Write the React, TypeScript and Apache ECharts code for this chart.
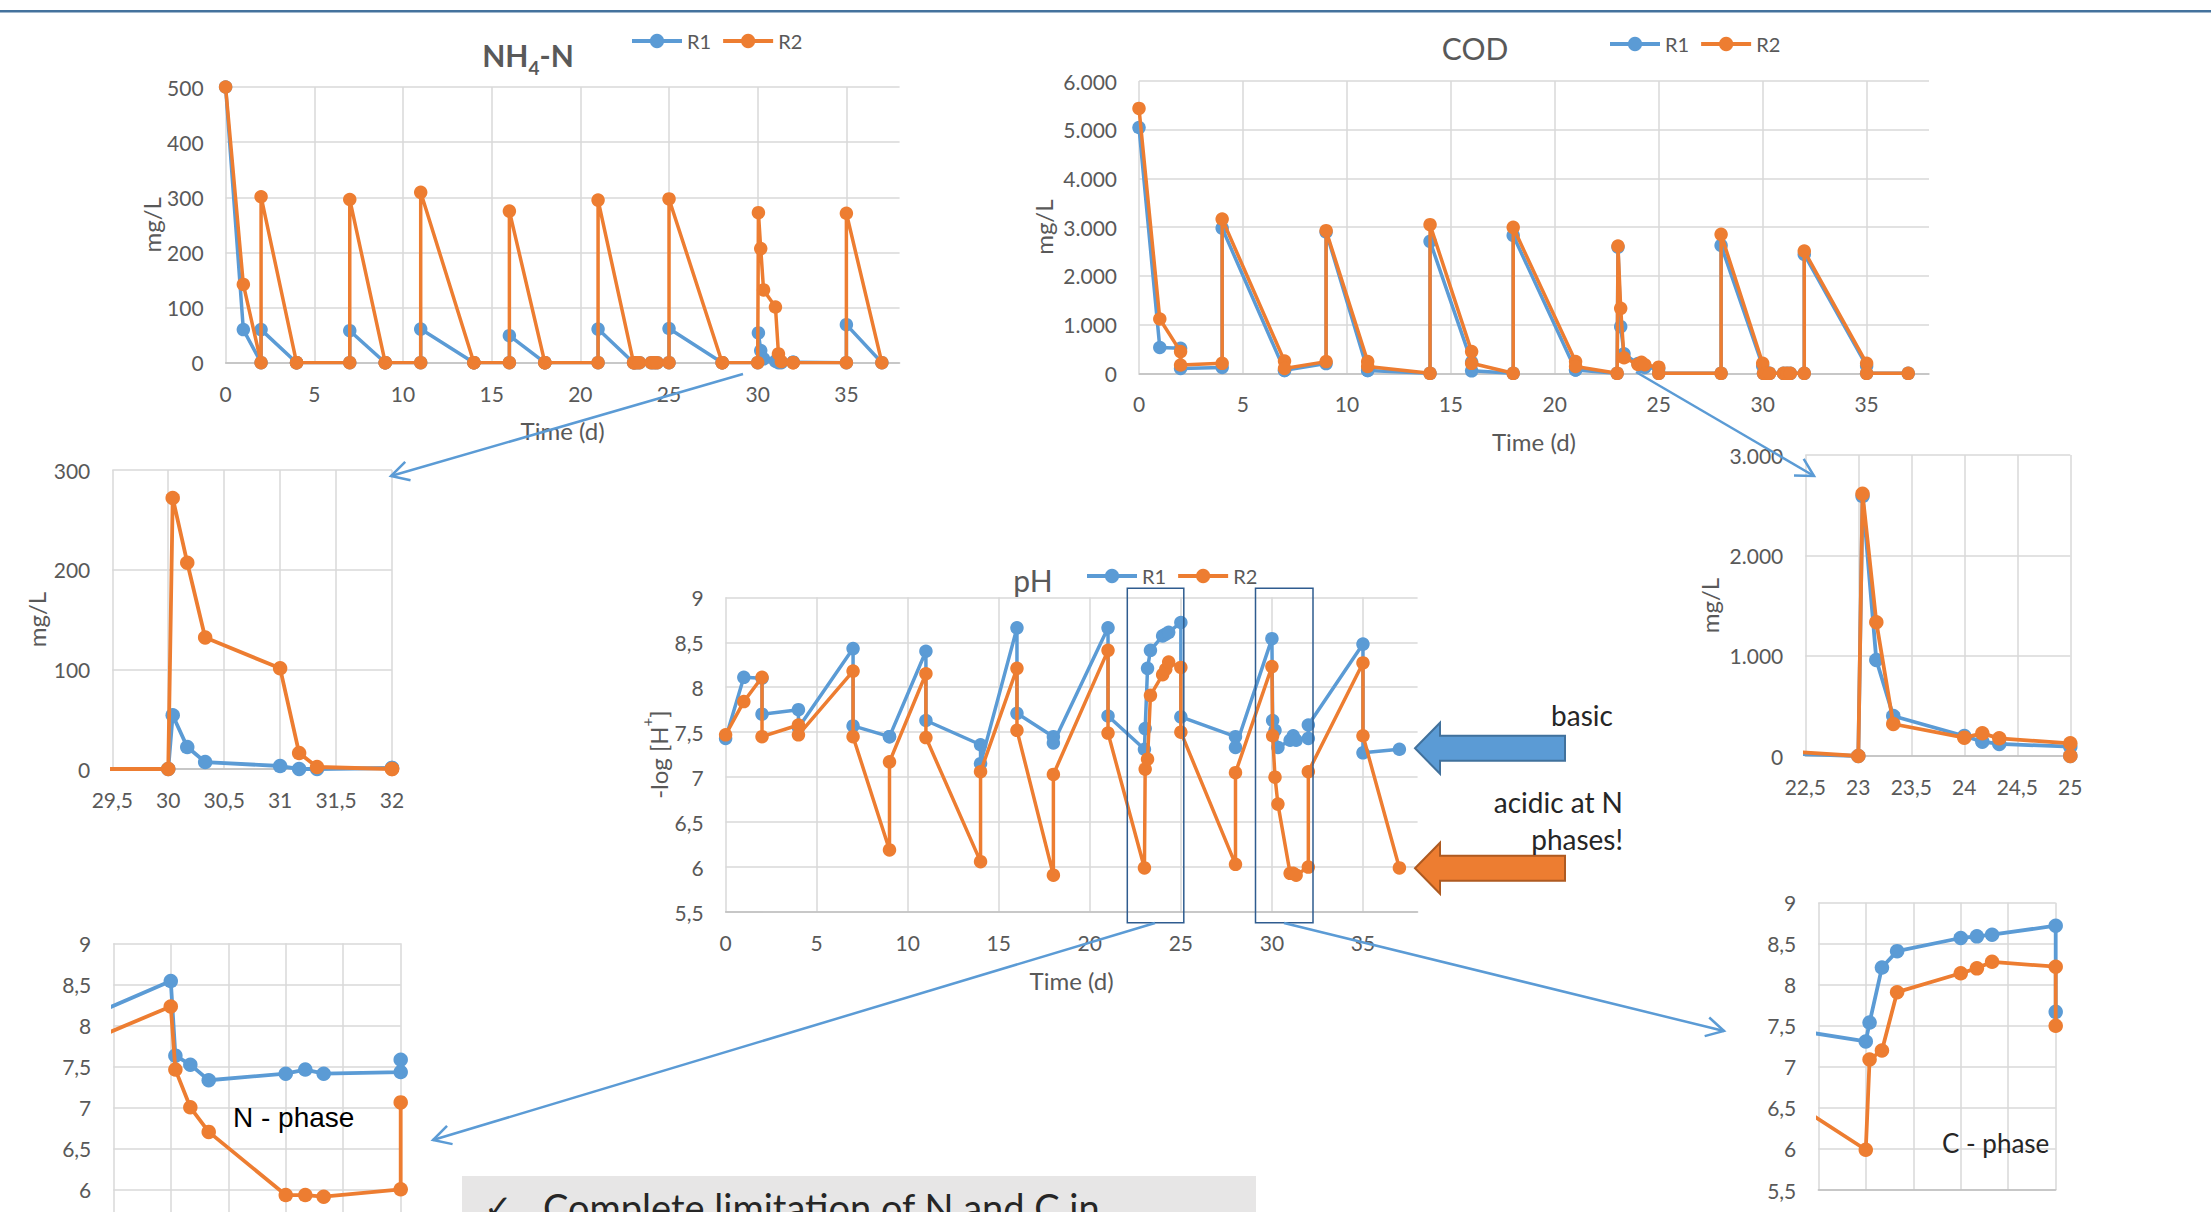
import React, { useEffect, useRef } from 'react';
import * as echarts from 'echarts';

// ---------- DATA ----------
const days = [0, 1, 2, 2, 4, 4, 7, 7, 9, 9, 11, 11, 14, 14, 16, 16, 18, 18, 21, 21, 23, 23.04, 23.17, 23.33, 24, 24.17, 24.33, 25, 25, 28, 28, 30, 30.04, 30.17, 30.33, 31, 31.17, 31.33, 32, 32, 35, 35, 37];

const nh4R1 = [500, 60, 0, 60, 0, 0, 0, 58, 0, 0, 0, 61, 0, 0, 0, 49, 0, 0, 0, 61, 0, 0, 0, 0, 0, 0, 0, 0, 62, 0, 0, 0, 54, 22, 7, 3, 0, 0, 1, 1, 0, 69, 0];
const nh4R2 = [500, 142, 0, 301, 0, 0, 0, 296, 0, 0, 0, 309, 0, 0, 0, 275, 0, 0, 0, 295, 0, 0, 0, 0, 0, 0, 0, 0, 297, 0, 0, 0, 272, 207, 132, 101, 16, 2, 0, 0, 0, 271, 0];

const codR1 = [5045, 530, 513, 100, 120, 2980, 60, 60, 200, 2900, 60, 60, 0, 2708, 230, 50, 0, 2830, 70, 70, 0, 2591, 957, 399, 199, 143, 120, 93, 0, 0, 2625, 150, 0, 0, 0, 0, 0, 0, 0, 2440, 150, 0, 0];
const codR2 = [5438, 1115, 445, 170, 205, 3167, 250, 100, 240, 2928, 240, 140, 0, 3050, 445, 205, 0, 2996, 240, 140, 0, 2613, 1334, 319, 183, 226, 176, 126, 0, 0, 2852, 205, 0, 0, 0, 0, 0, 0, 0, 2510, 205, 0, 0];

const phR1 = [7.43, 8.11, 8.10, 7.70, 7.75, 7.55, 8.43, 7.57, 7.45, 7.45, 8.40, 7.63, 7.36, 7.15, 8.66, 7.71, 7.45, 7.38, 8.66, 7.68, 7.31, 7.54, 8.21, 8.41, 8.57, 8.59, 8.61, 8.72, 7.67, 7.45, 7.33, 8.54, 7.63, 7.52, 7.33, 7.41, 7.46, 7.41, 7.43, 7.58, 8.48, 7.27, 7.31];
const phR2 = [7.47, 7.84, 8.11, 7.45, 7.58, 7.47, 8.18, 7.45, 6.19, 7.17, 8.15, 7.44, 6.06, 7.06, 8.21, 7.52, 5.91, 7.03, 8.41, 7.49, 5.99, 7.09, 7.20, 7.91, 8.14, 8.20, 8.28, 8.22, 7.50, 6.03, 7.05, 8.23, 7.46, 7.00, 6.70, 5.93, 5.93, 5.91, 6.00, 7.06, 8.27, 7.46, 5.99];

const seriesNames = ['R1', 'R2'];

// ---------- STYLE ----------
const FONT = 'Lato, "Open Sans", "DejaVu Sans", sans-serif';
const BLUE = '#5B9BD5';
const ORANGE = '#ED7D31';
const GRIDC = '#D9D9D9';
const AXISC = '#BFBFBF';
const LABELC = '#595959';
const TEXTC = '#262626';

const plain = (v: number) => String(v);
const comma = (v: number) => String(v).replace('.', ',');
const thousands = (v: number) =>
  v >= 1000 ? `${Math.floor(v / 1000)}.${String(v % 1000).padStart(3, '0')}` : String(v);

const pairs = (vals: number[]) => days.map((d, i) => [d, vals[i]]);

const phName = '{m|-log [H}{p|+}{m|]}';

const panels = [
  { grid: { left: 225.6, top: 87, width: 674, height: 275.7 }, x: [0, 38, 5], y: [0, 500, 100], vals: [nh4R1, nh4R2], yFmt: plain, xFmt: plain, yName: 'mg/L', yNameGap: 62, xName: 'Time (d)', big: true, xLabels: true, minLabel: true },
  { grid: { left: 1139, top: 81, width: 790, height: 292.3 }, x: [0, 38, 5], y: [0, 6000, 1000], vals: [codR1, codR2], yFmt: thousands, xFmt: plain, yName: 'mg/L', yNameGap: 84, xName: 'Time (d)', big: true, xLabels: true, minLabel: true },
  { grid: { left: 725.6, top: 597.3, width: 692, height: 314.7 }, x: [0, 38, 5], y: [5.5, 9, 0.5], vals: [phR1, phR2], yFmt: comma, xFmt: plain, yName: phName, yNameGap: 56, xName: 'Time (d)', big: true, xLabels: true, minLabel: true },
  { grid: { left: 112.3, top: 470, width: 279.7, height: 299 }, x: [29.5, 32, 0.5], y: [0, 300, 100], vals: [nh4R1, nh4R2], yFmt: plain, xFmt: comma, yName: 'mg/L', yNameGap: 64, xName: '', big: false, xLabels: true, minLabel: true },
  { grid: { left: 1805.3, top: 455, width: 265, height: 301 }, x: [22.5, 25, 0.5], y: [0, 3000, 1000], vals: [codR1, codR2], yFmt: thousands, xFmt: comma, yName: 'mg/L', yNameGap: 84, xName: '', big: false, xLabels: true, minLabel: true },
  { grid: { left: 113.3, top: 943.3, width: 287.4, height: 287 }, x: [29.5, 32, 0.5], y: [5.5, 9, 0.5], vals: [phR1, phR2], yFmt: comma, xFmt: comma, yName: '', yNameGap: 0, xName: '', big: false, xLabels: false, minLabel: false },
  { grid: { left: 1818.3, top: 902.7, width: 237.4, height: 287.3 }, x: [22.5, 25, 0.5], y: [5.5, 9, 0.5], vals: [phR1, phR2], yFmt: comma, xFmt: comma, yName: '', yNameGap: 0, xName: '', big: false, xLabels: false, minLabel: true },
];

function connector(x1: number, y1: number, x2: number, y2: number) {
  const ang = Math.atan2(y2 - y1, x2 - x1);
  const L = 20;
  const a = 0.5;
  const p1 = [x2 - L * Math.cos(ang - a), y2 - L * Math.sin(ang - a)];
  const p2 = [x2 - L * Math.cos(ang + a), y2 - L * Math.sin(ang + a)];
  return [
    { type: 'line', z: 50, silent: true, shape: { x1, y1, x2, y2 }, style: { stroke: BLUE, lineWidth: 2.5 } },
    { type: 'polyline', z: 50, silent: true, shape: { points: [p1, [x2, y2], p2] }, style: { stroke: BLUE, lineWidth: 2.5, fill: null } },
  ];
}

function blockArrow(tipY: number, fill: string, stroke: string) {
  const tipX = 1415, baseX = 1440, endX = 1565;
  return {
    type: 'polygon', z: 40, silent: true,
    shape: {
      points: [
        [tipX, tipY], [baseX, tipY - 25.5], [baseX, tipY - 12.5], [endX, tipY - 12.5],
        [endX, tipY + 12.5], [baseX, tipY + 12.5], [baseX, tipY + 25.5],
      ],
    },
    style: { fill, stroke, lineWidth: 2 },
  };
}

function buildOption() {
  const grid: any[] = [];
  const xAxis: any[] = [];
  const yAxis: any[] = [];
  const series: any[] = [];

  panels.forEach((p, gi) => {
    grid.push({ ...p.grid, outerBoundsMode: 'none', containLabel: false });
    xAxis.push({
      type: 'value', gridIndex: gi, min: p.x[0], max: p.x[1], interval: p.x[2],
      name: p.xName, nameLocation: 'middle', nameGap: 56,
      nameTextStyle: { fontFamily: FONT, fontSize: 24, color: LABELC },
      axisLine: { show: true, onZero: false, lineStyle: { color: AXISC, width: 1.5 } },
      axisTick: { show: false },
      axisLabel: { show: p.xLabels, fontFamily: FONT, fontSize: 21, color: LABELC, margin: 20, formatter: p.xFmt, showMaxLabel: !p.big },
      splitLine: { show: true, showMaxLine: !p.big, lineStyle: { color: GRIDC, width: 1.5 } },
    });
    yAxis.push({
      type: 'value', gridIndex: gi, min: p.y[0], max: p.y[1], interval: p.y[2],
      name: p.yName, nameLocation: 'middle', nameGap: p.yNameGap, nameRotate: 90,
      nameTextStyle: {
        fontFamily: FONT, fontSize: 24, color: LABELC,
        rich: {
          m: { fontFamily: FONT, fontSize: 24, color: LABELC, lineHeight: 24, verticalAlign: 'top', padding: [7, 0, 0, 0] },
          p: { fontFamily: FONT, fontSize: 15, color: LABELC, lineHeight: 15, verticalAlign: 'top', padding: [0, 0, 0, 0] },
        },
      },
      axisLine: { show: false },
      axisTick: { show: false },
      axisLabel: { fontFamily: FONT, fontSize: 21, color: LABELC, margin: 22, formatter: p.yFmt, showMinLabel: p.minLabel },
      splitLine: { show: true, lineStyle: { color: GRIDC, width: 1.5 } },
    });
    p.vals.forEach((vals, si) => {
      series.push({
        type: 'line', name: seriesNames[si], xAxisIndex: gi, yAxisIndex: gi,
        data: pairs(vals), clip: true,
        symbol: 'circle', symbolSize: p.big ? 13.5 : 14.5, showAllSymbol: true,
        lineStyle: { color: si === 0 ? BLUE : ORANGE, width: p.big ? 3.5 : 3.8 },
        itemStyle: { color: si === 0 ? BLUE : ORANGE },
        emphasis: { disabled: true },
        z: 2 + si,
      });
    });
  });

  const legendBase = {
    data: seriesNames, orient: 'horizontal', itemWidth: 50, itemHeight: 18, itemGap: 10,
    lineStyle: { width: 4 },
    textStyle: { fontFamily: FONT, fontSize: 20, color: LABELC }, padding: 0, selectedMode: false,
  };

  const titleRich = {
    m: { fontFamily: FONT, fontSize: 30, color: LABELC, lineHeight: 30, verticalAlign: 'top' },
    s: { fontFamily: FONT, fontSize: 19, color: LABELC, lineHeight: 19, verticalAlign: 'top', padding: [18, 0, 0, 0] },
  };

  const graphic: any[] = [
    { type: 'rect', silent: true, z: 1, shape: { x: 0, y: 10, width: 2211, height: 2.5 }, style: { fill: '#44729D' } },
    // highlight boxes on the pH chart
    { type: 'rect', silent: true, z: 45, shape: { x: 1127.3, y: 588.3, width: 56.5, height: 334.4 }, style: { fill: null, stroke: '#2F5C8F', lineWidth: 1.5 } },
    { type: 'rect', silent: true, z: 45, shape: { x: 1255.5, y: 588.3, width: 57.5, height: 334.4 }, style: { fill: null, stroke: '#2F5C8F', lineWidth: 1.5 } },
    ...connector(743, 374, 391, 476),
    ...connector(1636, 372, 1814, 476),
    ...connector(1155, 923, 433, 1140),
    ...connector(1284, 923, 1724, 1031),
    blockArrow(748.3, BLUE, '#41719C'),
    blockArrow(868.3, ORANGE, '#AE5A21'),
    { type: 'text', silent: true, z: 60, style: { text: 'basic', x: 1582, y: 715, align: 'center', verticalAlign: 'middle', fontFamily: FONT, fontSize: 28, fill: TEXTC } },
    { type: 'text', silent: true, z: 60, style: { text: 'acidic at N', x: 1623, y: 802, align: 'right', verticalAlign: 'middle', fontFamily: FONT, fontSize: 28, fill: TEXTC } },
    { type: 'text', silent: true, z: 60, style: { text: 'phases!', x: 1623, y: 838.5, align: 'right', verticalAlign: 'middle', fontFamily: FONT, fontSize: 28, fill: TEXTC } },
    { type: 'text', silent: true, z: 60, style: { text: 'N - phase', x: 233, y: 1117, align: 'left', verticalAlign: 'middle', fontFamily: '"Liberation Sans", Arial, sans-serif', fontSize: 28, fill: '#000000' } },
    { type: 'text', silent: true, z: 60, style: { text: 'C - phase', x: 1942, y: 1143, align: 'left', verticalAlign: 'middle', fontFamily: FONT, fontSize: 26, fill: TEXTC } },
    { type: 'rect', silent: true, z: 30, shape: { x: 462, y: 1176, width: 794, height: 60 }, style: { fill: '#E7E6E6' } },
    { type: 'text', silent: true, z: 61, style: { text: '\u2713', x: 484, y: 1190, align: 'left', verticalAlign: 'top', fontFamily: '"DejaVu Sans", sans-serif', fontSize: 34, fill: TEXTC } },
    { type: 'text', silent: true, z: 61, style: { text: 'Complete limitation of N and C in', x: 543, y: 1188, align: 'left', verticalAlign: 'top', fontFamily: FONT, fontSize: 38, fill: TEXTC } },
  ];

  return {
    animation: false,
    backgroundColor: '#ffffff',
    textStyle: { fontFamily: FONT },
    title: [
      { text: '{m|NH}{s|4}{m|-N}', left: 528, top: 40, padding: 0, textAlign: 'center', textVerticalAlign: 'top', textStyle: { rich: titleRich } },
      { text: 'COD', left: 1475, top: 33, padding: 0, textAlign: 'center', textVerticalAlign: 'top', textStyle: { fontFamily: FONT, fontSize: 30, color: LABELC, fontWeight: 'normal' } },
      { text: 'pH', left: 1033, top: 565, padding: 0, textAlign: 'center', textVerticalAlign: 'top', textStyle: { fontFamily: FONT, fontSize: 30, color: LABELC, fontWeight: 'normal' } },
    ],
    legend: [
      { ...legendBase, left: 630, top: 31 },
      { ...legendBase, left: 1608, top: 34 },
      { ...legendBase, left: 1085, top: 566 },
    ],
    grid,
    xAxis,
    yAxis,
    series,
    graphic,
  };
}

export default function App() {
  const ref = useRef<HTMLDivElement>(null);
  useEffect(() => {
    if (!ref.current) return;
    const chart = echarts.init(ref.current, null, { renderer: 'svg' });
    chart.setOption(buildOption() as any);
    return () => chart.dispose();
  }, []);
  return (
    <div
      ref={ref}
      style={{ position: 'fixed', left: 0, top: 0, width: 2211, height: 1212, background: '#ffffff' }}
    />
  );
}
